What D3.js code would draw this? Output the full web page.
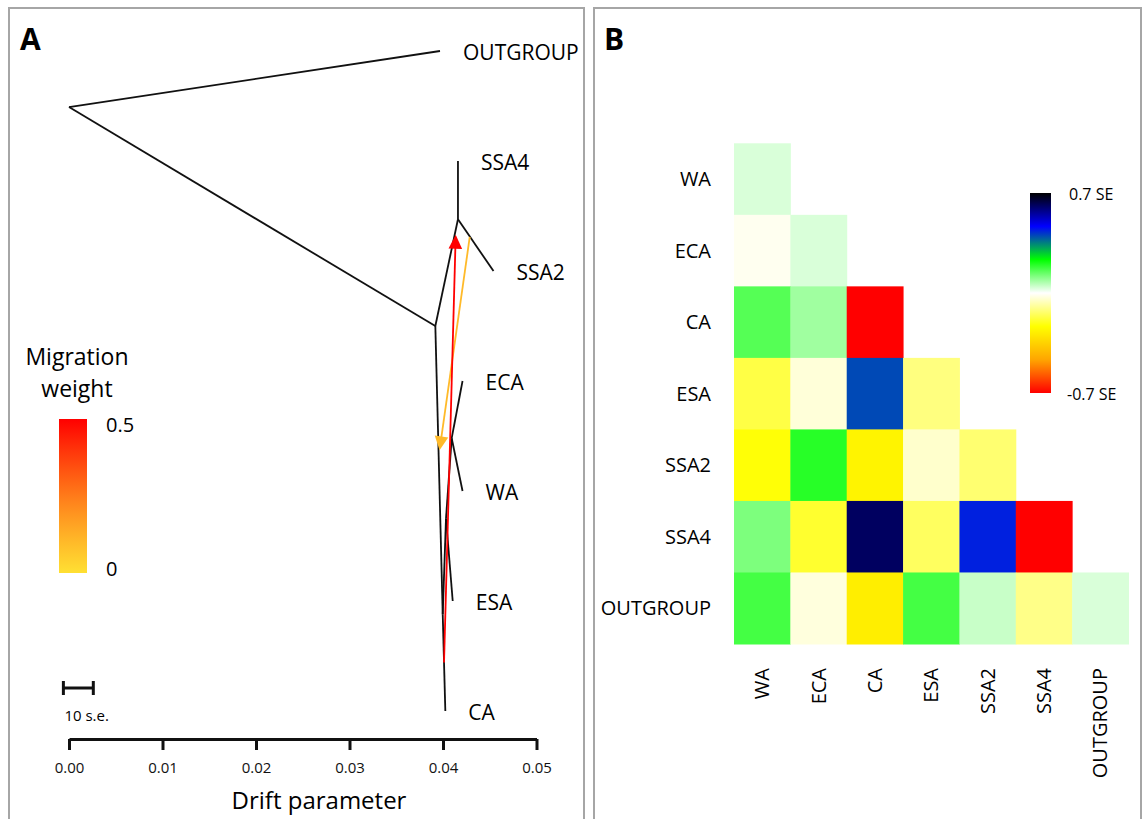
<!DOCTYPE html>
<html>
<head>
<meta charset="utf-8">
<script src="https://cdn.jsdelivr.net/npm/d3@7"></script>
<style>
  html, body { margin: 0; padding: 0; background: #fff; }
  svg { display: block; font-family: "Open Sans", sans-serif; }
</style>
</head>
<body>
<svg id="chart" width="1144" height="819"></svg>
<script>
// ---------------- Panel A data (TreeMix tree) ----------------
const nodeIds   = ["root", "n1", "n2", "n3", "n4", "n5", "OUTGROUP", "SSA4", "SSA2", "ECA", "WA", "ESA", "CA"];
const nodeDrift = [0.0000, 0.03918, 0.04160, 0.04093, 0.04032, 0.03997, 0.03968, 0.04160, 0.04540, 0.04209, 0.04209, 0.04104, 0.04025];
const nodeRow   = [0.51, 2.50, 1.53, 3.52, 4.25, 5.12, 0, 1, 2, 3, 4, 5, 6];
const tipNames  = ["OUTGROUP", "SSA4", "SSA2", "ECA", "WA", "ESA", "CA"];
const edgeParent = ["root", "root", "n1", "n2", "n2", "n1", "n5", "n5", "n4", "n4", "n3", "n3"];
const edgeChild  = ["OUTGROUP", "n1", "n2", "SSA4", "SSA2", "n5", "CA", "n4", "ESA", "n3", "ECA", "WA"];

const migFromDrift = [0.04011, 0.04286];
const migFromRow   = [5.56, 1.69];
const migToDrift   = [0.04136, 0.03963];
const migToRow     = [1.67, 3.63];
const migWeight    = [0.5, 0.1];

const driftTicks = [0.00, 0.01, 0.02, 0.03, 0.04, 0.05];
const weightTicks = [0, 0.5];
const scaleBarStart = -0.0006;
const scaleBarLength = 0.0032;   // 10 s.e.

// ---------------- Panel B data (residual matrix) ----------------
const popNames = ["WA", "ECA", "CA", "ESA", "SSA2", "SSA4", "OUTGROUP"];
const residWA   = [0.035];
const residECA  = [-0.014, 0.035];
const residCA   = [0.156, 0.087, -0.70];
const residESA  = [-0.170, -0.035, 0.400, -0.117];
const residSSA2 = [-0.228, 0.198, -0.262, -0.047, -0.131];
const residSSA4 = [0.119, -0.190, 0.612, -0.146, 0.437, -0.70];
const residOUT  = [0.171, -0.031, -0.278, 0.171, 0.050, -0.109, 0.035];
const residRows = [residWA, residECA, residCA, residESA, residSSA2, residSSA4, residOUT];
const residRange = [-0.7, 0.7];
const residLabels = ["0.7 SE", "-0.7 SE"];

// ---------------- Drawing ----------------
const svg = d3.select("#chart");

// panel frames
svg.append("rect").attr("x", 9).attr("y", 8).attr("width", 575).attr("height", 840)
  .attr("fill", "none").attr("stroke", "#a6a6a6").attr("stroke-width", 2);
svg.append("rect").attr("x", 594).attr("y", 8).attr("width", 547).attr("height", 840)
  .attr("fill", "none").attr("stroke", "#a6a6a6").attr("stroke-width", 2);

svg.append("text").attr("x", 20).attr("y", 50).text("A")
  .attr("font-size", 30).attr("font-weight", 700);
svg.append("text").attr("x", 604).attr("y", 50).text("B")
  .attr("font-size", 30).attr("font-weight", 700);

// scales for panel A
const x = d3.scaleLinear().domain([0, 0.05]).range([69, 536.5]);
const y = d3.scaleLinear().domain([0, 6]).range([51, 711]);

const nodeMap = {};
nodeIds.forEach((id, i) => nodeMap[id] = { d: nodeDrift[i], r: nodeRow[i] });

const gA = svg.append("g");
gA.selectAll("line.edge").data(edgeParent.map((p, i) => [p, edgeChild[i]]))
  .enter().append("line").attr("class", "edge")
  .attr("x1", e => x(nodeMap[e[0]].d)).attr("y1", e => y(nodeMap[e[0]].r))
  .attr("x2", e => x(nodeMap[e[1]].d)).attr("y2", e => y(nodeMap[e[1]].r))
  .attr("stroke", "#111").attr("stroke-width", 1.8).attr("stroke-linecap", "butt");

// tip labels
gA.selectAll("text.tip").data(tipNames).enter().append("text").attr("class", "tip")
  .attr("x", n => x(nodeMap[n].d) + 23)
  .attr("y", n => y(nodeMap[n].r) + 2)
  .attr("dy", "0.35em")
  .attr("font-size", 21)
  .text(n => n);

// migration weight colour scale
const wColor = d3.scaleLinear().domain([0, 0.5]).range(["#ffe033", "#ff0000"])
  .interpolate(d3.interpolateHsl).clamp(true);

const migs = migWeight.map((w, i) => ({
  x1: x(migFromDrift[i]), y1: y(migFromRow[i]),
  x2: x(migToDrift[i]), y2: y(migToRow[i]), w
}));
migs.sort((a, b) => a.w - b.w);
migs.forEach(m => {
  const dx = m.x2 - m.x1, dy = m.y2 - m.y1;
  const len = Math.hypot(dx, dy);
  const ux = dx / len, uy = dy / len;
  const nx = -uy, ny = ux;
  const L = 14, W = 6.8;
  const c = wColor(m.w);
  gA.append("line")
    .attr("x1", m.x1).attr("y1", m.y1)
    .attr("x2", m.x2 - ux * (L - 2)).attr("y2", m.y2 - uy * (L - 2))
    .attr("stroke", c).attr("stroke-width", 1.8);
  const bx = m.x2 - ux * L, by = m.y2 - uy * L;
  gA.append("polygon")
    .attr("points", [[m.x2, m.y2], [bx + nx * W, by + ny * W], [bx - nx * W, by - ny * W]].map(p => p.join(",")).join(" "))
    .attr("fill", c);
});

// migration weight legend
const defs = svg.append("defs");
const gradW = defs.append("linearGradient").attr("id", "gradW")
  .attr("x1", 0).attr("y1", 1).attr("x2", 0).attr("y2", 0);
d3.range(0, 1.0001, 0.1).forEach(t => {
  gradW.append("stop").attr("offset", t).attr("stop-color", wColor(t * 0.5));
});
gA.append("text").attr("x", 77).attr("y", 365).attr("text-anchor", "middle")
  .attr("font-size", 23).text("Migration");
gA.append("text").attr("x", 77).attr("y", 397).attr("text-anchor", "middle")
  .attr("font-size", 23).text("weight");
const wy = d3.scaleLinear().domain([0, 0.5]).range([573, 419]);
gA.append("rect").attr("x", 59).attr("y", wy(0.5)).attr("width", 28)
  .attr("height", wy(0) - wy(0.5)).attr("fill", "url(#gradW)");
gA.selectAll("text.wt").data(weightTicks).enter().append("text").attr("class", "wt")
  .attr("x", 106).attr("y", d => d === 0 ? wy(d) - 4 : wy(d) + 6)
  .attr("dy", "0.35em").attr("font-size", 20)
  .text(d => d === 0 ? "0" : d3.format(".1f")(d));

// scale bar
const sbY = 688;
const sbX1 = x(scaleBarStart), sbX2 = x(scaleBarStart + scaleBarLength);
gA.append("line").attr("x1", sbX1).attr("x2", sbX2).attr("y1", sbY).attr("y2", sbY)
  .attr("stroke", "#111").attr("stroke-width", 3);
[sbX1, sbX2].forEach(px => gA.append("line").attr("x1", px).attr("x2", px)
  .attr("y1", sbY - 7).attr("y2", sbY + 7).attr("stroke", "#111").attr("stroke-width", 3));
gA.append("text").attr("x", sbX1 + 1).attr("y", 721).attr("font-size", 15).text("10 s.e.");

// x axis
const axisG = gA.append("g").attr("transform", "translate(0,739)")
  .call(d3.axisBottom(x).tickValues(driftTicks).tickFormat(d3.format(".2f"))
    .tickSize(11).tickSizeOuter(0).tickPadding(12));
axisG.select(".domain").attr("stroke", "#111").attr("stroke-width", 3);
axisG.selectAll(".tick line").attr("stroke", "#111").attr("stroke-width", 3);
axisG.selectAll(".tick text").attr("font-size", 15).attr("fill", "#111")
  .attr("font-family", "Open Sans, sans-serif");
gA.append("text").attr("x", 319).attr("y", 809).attr("text-anchor", "middle")
  .attr("font-size", 24).text("Drift parameter");

// ---------------- Panel B ----------------
const colX = d3.scaleBand().domain(popNames).range([734, 1128.5]);
const rowY = d3.scaleBand().domain(popNames).range([143.3, 644]);
const rColor = d3.scaleLinear()
  .domain(d3.range(7).map(i => residRange[0] + i * (residRange[1] - residRange[0]) / 6))
  .range(["#ff0000", "#ffa500", "#ffff00", "#ffffff", "#00ff00", "#0000ff", "#000000"])
  .clamp(true);

const cells = [];
residRows.forEach((row, ri) => row.forEach((v, ci) => cells.push({ r: popNames[ri], c: popNames[ci], v })));
const gB = svg.append("g");
gB.selectAll("rect.cell").data(cells).enter().append("rect").attr("class", "cell")
  .attr("x", d => colX(d.c)).attr("y", d => rowY(d.r))
  .attr("width", colX.bandwidth() + 0.5).attr("height", rowY.bandwidth() + 0.5)
  .attr("fill", d => rColor(d.v));

gB.selectAll("text.rowlab").data(popNames).enter().append("text").attr("class", "rowlab")
  .attr("x", 711).attr("y", d => rowY(d) + rowY.bandwidth() / 2)
  .attr("dy", "0.35em").attr("text-anchor", "end").attr("font-size", 20).text(d => d);
gB.selectAll("text.collab").data(popNames).enter().append("text").attr("class", "collab")
  .attr("transform", d => `translate(${colX(d) + colX.bandwidth() / 2},668) rotate(-90)`)
  .attr("dy", "0.35em").attr("text-anchor", "end").attr("font-size", 20).text(d => d);

// residual colour bar
const gradR = defs.append("linearGradient").attr("id", "gradR")
  .attr("x1", 0).attr("y1", 1).attr("x2", 0).attr("y2", 0);
d3.range(0, 1.0001, 1 / 24).forEach(t => {
  gradR.append("stop").attr("offset", t)
    .attr("stop-color", rColor(residRange[0] + t * (residRange[1] - residRange[0])));
});
const ry = d3.scaleLinear().domain(residRange).range([393, 193]);
gB.append("rect").attr("x", 1030).attr("y", ry(residRange[1])).attr("width", 21)
  .attr("height", ry(residRange[0]) - ry(residRange[1])).attr("fill", "url(#gradR)");
gB.append("text").attr("x", 1069).attr("y", ry(residRange[1]) + 1).attr("dy", "0.35em")
  .attr("font-size", 16).text(residLabels[0]);
gB.append("text").attr("x", 1067).attr("y", ry(residRange[0]) + 1).attr("dy", "0.35em")
  .attr("font-size", 16).text(residLabels[1]);
</script>
</body>
</html>
